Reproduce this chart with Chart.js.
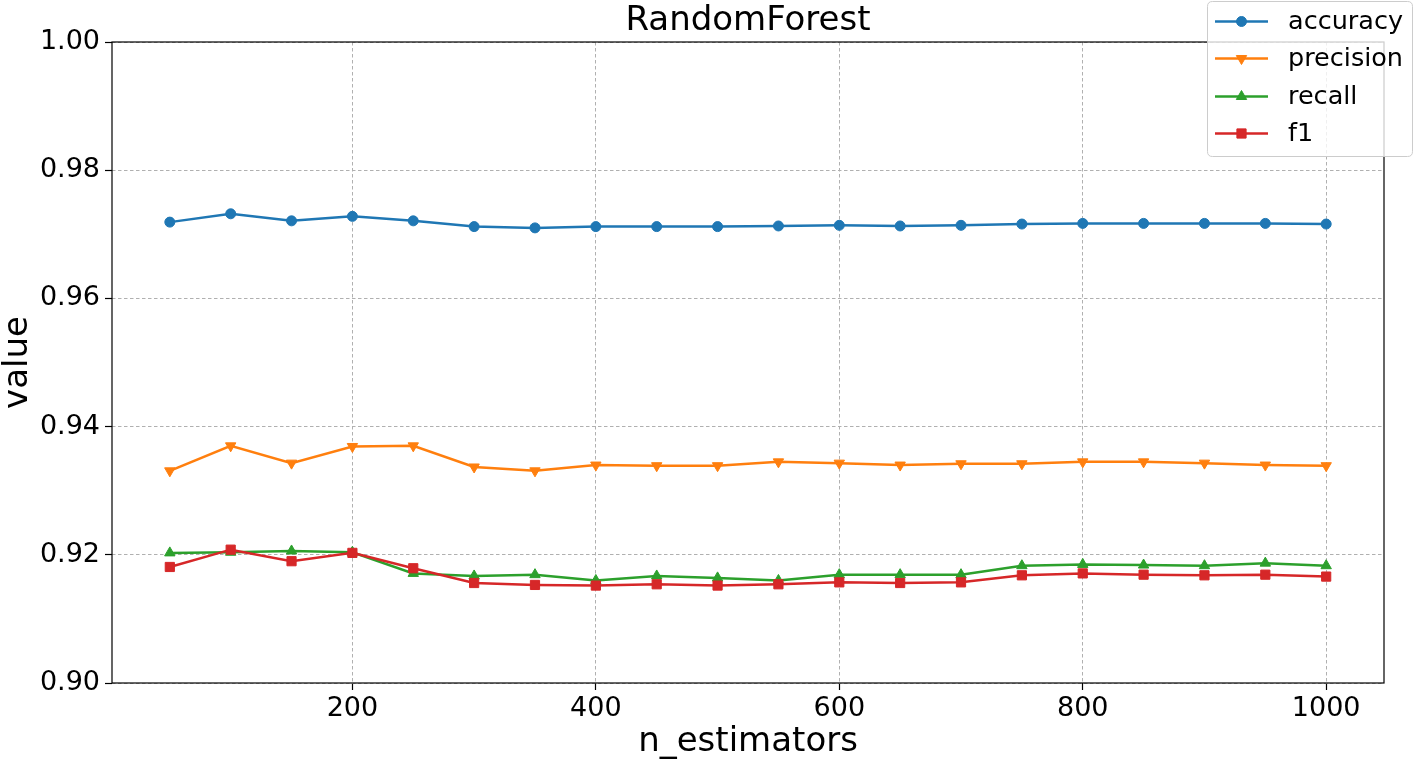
<!DOCTYPE html>
<html>
<head>
<meta charset="utf-8">
<script src="https://cdn.jsdelivr.net/npm/chart.js@4/dist/chart.umd.min.js"></script>
<style>
html,body{margin:0;padding:0;background:#fff;}
canvas{display:block;}
</style>
</head>
<body>
<canvas id="c" width="1415" height="762"></canvas>
<script>
const chartTitle = 'RandomForest';
const xLabel = 'n_estimators';
const yLabel = 'value';
const nEstimators = [50,100,150,200,250,300,350,400,450,500,550,600,650,700,750,800,850,900,950,1000];
const accuracy  = [0.9719,0.9732,0.9721,0.9728,0.9721,0.9712,0.9710,0.9712,0.9712,0.9712,0.9713,0.9714,0.9713,0.9714,0.9716,0.9717,0.9717,0.9717,0.9717,0.9716];
const precision = [0.9331,0.9370,0.9343,0.9369,0.9370,0.9337,0.9331,0.9340,0.9339,0.9339,0.9345,0.9343,0.9340,0.9342,0.9342,0.9345,0.9345,0.9343,0.9340,0.9339];
const recall    = [0.9203,0.9204,0.9206,0.9204,0.9171,0.9167,0.9169,0.9160,0.9167,0.9164,0.9160,0.9169,0.9169,0.9169,0.9183,0.9185,0.9184,0.9183,0.9187,0.9183];
const f1        = [0.9181,0.9208,0.9190,0.9203,0.9179,0.9156,0.9153,0.9152,0.9154,0.9152,0.9154,0.9157,0.9156,0.9157,0.9168,0.9171,0.9169,0.9168,0.9169,0.9166];
const xTicks = [200,400,600,800,1000];
const yTicks = [0.90,0.92,0.94,0.96,0.98,1.00];
const seriesNames = ['accuracy','precision','recall','f1'];

const FONT = "'DejaVu Sans', sans-serif";
Chart.defaults.font.family = FONT;
Chart.defaults.color = '#000';

const colors = ['#1f77b4','#ff7f0e','#2ca02c','#d62728'];
const styles = [
  {pointStyle:'circle', radius:5, rotation:0},
  {pointStyle:'triangle', radius:6, rotation:180},
  {pointStyle:'triangle', radius:6, rotation:0},
  {pointStyle:'rect', radius:6.5, rotation:0}
];
const values = [accuracy, precision, recall, f1];

const datasets = values.map((arr, i) => ({
  label: seriesNames[i],
  data: arr.map((v, j) => ({x: nEstimators[j], y: v})),
  borderColor: colors[i],
  backgroundColor: colors[i],
  borderWidth: 2.5,
  pointStyle: styles[i].pointStyle,
  pointRadius: styles[i].radius,
  pointRotation: styles[i].rotation,
  pointBorderWidth: 1,
  pointBorderColor: colors[i],
  pointBackgroundColor: colors[i],
  tension: 0,
  fill: false,
  order: 3 - i
}));

function drawMarker(ctx, style, x, y, color) {
  ctx.save();
  ctx.fillStyle = color;
  ctx.strokeStyle = color;
  ctx.lineWidth = 1;
  ctx.beginPath();
  const r = style.radius;
  if (style.pointStyle === 'circle') {
    ctx.arc(x, y, r, 0, Math.PI * 2);
  } else if (style.pointStyle === 'rect') {
    const s = r * Math.SQRT1_2;
    ctx.rect(x - s, y - s, 2 * s, 2 * s);
  } else {
    const rot = style.rotation * Math.PI / 180;
    for (let k = 0; k < 3; k++) {
      const a = rot - Math.PI / 2 + k * 2 * Math.PI / 3;
      const px = x + Math.cos(a) * r, py = y + Math.sin(a) * r;
      if (k === 0) ctx.moveTo(px, py); else ctx.lineTo(px, py);
    }
    ctx.closePath();
  }
  ctx.fill();
  ctx.stroke();
  ctx.restore();
}

const framePlugin = {
  id: 'frame',
  afterDatasetsDraw(chart) {
    const {ctx, chartArea: a} = chart;
    ctx.save();
    ctx.strokeStyle = '#000';
    ctx.lineWidth = 1.2;
    ctx.strokeRect(a.left, a.top, a.right - a.left, a.bottom - a.top);
    ctx.restore();
  },
  afterDraw(chart) {
    const {ctx, chartArea: a} = chart;
    ctx.save();
    // title
    ctx.fillStyle = '#000';
    ctx.font = '34px ' + FONT;
    ctx.textAlign = 'center';
    ctx.textBaseline = 'middle';
    ctx.fillText(chartTitle, (a.left + a.right) / 2, 21);
    // legend
    const bx = 1207.5, by = 1.5, bw = 205, bh = 155, rr = 5;
    ctx.beginPath();
    ctx.moveTo(bx + rr, by);
    ctx.lineTo(bx + bw - rr, by);
    ctx.quadraticCurveTo(bx + bw, by, bx + bw, by + rr);
    ctx.lineTo(bx + bw, by + bh - rr);
    ctx.quadraticCurveTo(bx + bw, by + bh, bx + bw - rr, by + bh);
    ctx.lineTo(bx + rr, by + bh);
    ctx.quadraticCurveTo(bx, by + bh, bx, by + bh - rr);
    ctx.lineTo(bx, by + rr);
    ctx.quadraticCurveTo(bx, by, bx + rr, by);
    ctx.closePath();
    ctx.fillStyle = 'rgba(255,255,255,0.8)';
    ctx.fill();
    ctx.strokeStyle = '#cccccc';
    ctx.lineWidth = 1;
    ctx.stroke();
    const rows = [21.5, 58.5, 96.5, 133.5];
    ctx.font = '25.5px ' + FONT;
    ctx.textAlign = 'left';
    ctx.textBaseline = 'middle';
    seriesNames.forEach((name, i) => {
      const y = rows[i];
      ctx.strokeStyle = colors[i];
      ctx.lineWidth = 2.5;
      ctx.beginPath();
      ctx.moveTo(1215, y);
      ctx.lineTo(1268, y);
      ctx.stroke();
      drawMarker(ctx, styles[i], 1241.5, y, colors[i]);
      ctx.fillStyle = '#000';
      ctx.fillText(name, 1288, y + 1);
    });
    ctx.restore();
  }
};

const gridOpts = {
  color: '#b0b0b0', lineWidth: 1,
  tickLength: 7, tickColor: '#000', tickWidth: 1.2, tickBorderDash: []
};

new Chart(document.getElementById('c'), {
  type: 'line',
  data: { datasets },
  plugins: [framePlugin],
  options: {
    responsive: false,
    animation: false,
    devicePixelRatio: 1,
    layout: { padding: { top: 42, right: 31, bottom: 0, left: 0 } },
    plugins: { legend: { display: false }, tooltip: { enabled: false }, title: { display: false } },
    scales: {
      x: {
        type: 'linear',
        min: 2.5,
        max: 1047.5,
        afterBuildTicks: s => { s.ticks = xTicks.map(v => ({value: v})); },
        afterFit: s => { s.height = 79; },
        border: { display: false, dash: [3.5, 2.5] },
        grid: gridOpts,
        ticks: { font: { size: 27 }, color: '#000', padding: 3, maxRotation: 0, callback: v => String(v) },
        title: { display: true, text: xLabel, font: { size: 34, lineHeight: 1 }, color: '#000', padding: { top: 0, bottom: 3 } }
      },
      y: {
        type: 'linear',
        min: 0.9,
        max: 1.0,
        afterBuildTicks: s => { s.ticks = yTicks.map(v => ({value: v})); },
        afterFit: s => { s.width = 112; },
        border: { display: false, dash: [3.5, 2.5] },
        grid: gridOpts,
        ticks: { font: { size: 27 }, color: '#000', padding: 5, callback: v => Number(v).toFixed(2) },
        title: { display: true, text: yLabel, font: { size: 34, lineHeight: 1 }, color: '#000', padding: { top: 1, bottom: 0 } }
      }
    }
  }
});
</script>
</body>
</html>
